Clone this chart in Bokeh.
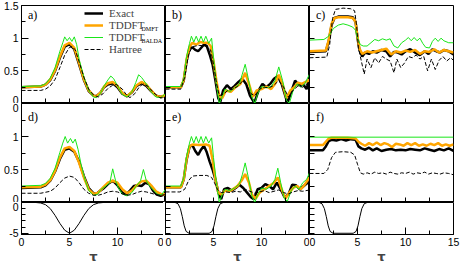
from bokeh.plotting import figure
from bokeh.layouts import gridplot
from bokeh.models import Range1d, FixedTicker, Label, Legend, LegendItem, CustomJSTickFormatter
from bokeh.embed import file_html
from bokeh.resources import INLINE

# ---------------- tick positions / labels ----------------
x_ticks = [0, 5, 10, 15]
x_minor = [2.5, 7.5, 12.5]
x_labels = [["0", "5", "10", "0"], ["0", "5", "10", "0"], ["0", "5", "10", "15"]]
y_ticks = [0, 0.5, 1, 1.5]
y_minor = [0.25, 0.75, 1.25]
y_labels_top = ["0", "0.5", "1", "1.5"]
y_labels_mid = ["0", "0.5", "1", "0"]
f_ticks = [-5, 0]
f_minor = [-4, -3, -2, -1]
f_labels = ["-5", "0"]
panel_names = [["a)", "b)", "c)"], ["d)", "e)", "f)"]]
legend_names = ["Exact", "TDDFT", "TDDFT", "Hartree"]
legend_subs = ["", "DMFT", "BALDA", ""]
x_title = "\u03c4"

# ---------------- panel a ----------------
a_ex_t = [0, 2, 2.5, 3, 3.5, 4, 4.5, 5, 5.5, 6, 6.5, 7, 7.5, 7.8, 8.2, 8.6, 9, 9.5, 10, 10.5, 11, 11.5, 12, 12.5, 13, 13.5, 14, 14.5, 15]
a_ex_v = [0.25, 0.26, 0.29, 0.36, 0.5, 0.7, 0.87, 0.91, 0.83, 0.6, 0.36, 0.19, 0.12, 0.11, 0.16, 0.25, 0.29, 0.31, 0.25, 0.15, 0.11, 0.17, 0.27, 0.31, 0.27, 0.19, 0.12, 0.1, 0.12]
a_dm_t = [0, 2, 2.5, 3, 3.5, 4, 4.5, 5, 5.5, 6, 6.5, 7, 7.5, 7.8, 8.2, 8.6, 9, 9.5, 10, 10.5, 11, 11.5, 12, 12.5, 13, 13.5, 14, 14.5, 15]
a_dm_v = [0.25, 0.26, 0.29, 0.37, 0.51, 0.72, 0.89, 0.93, 0.85, 0.62, 0.37, 0.2, 0.12, 0.11, 0.16, 0.26, 0.31, 0.33, 0.27, 0.16, 0.11, 0.18, 0.28, 0.33, 0.29, 0.2, 0.12, 0.1, 0.13]
a_ba_t = [0, 2, 2.5, 3, 3.5, 4, 4.3, 4.5, 4.75, 5.0, 5.25, 5.5, 5.75, 6, 6.5, 7, 7.5, 7.8, 8.2, 8.6, 9, 9.3, 9.6, 10, 10.5, 11, 11.5, 11.9, 12.2, 12.5, 13, 13.5, 14, 14.5, 15]
a_ba_v = [0.26, 0.27, 0.3, 0.39, 0.55, 0.8, 0.93, 1.02, 0.96, 1.01, 0.95, 1.02, 0.9, 0.68, 0.4, 0.2, 0.1, 0.09, 0.15, 0.27, 0.36, 0.42, 0.38, 0.27, 0.14, 0.1, 0.18, 0.32, 0.44, 0.4, 0.3, 0.18, 0.1, 0.09, 0.15]
a_ha_t = [0, 2, 2.5, 3, 3.5, 4, 4.5, 5, 5.3, 5.6, 6, 6.5, 7, 7.5, 8, 8.5, 9, 9.5, 9.9, 10.5, 11, 11.3, 11.8, 12.3, 12.7, 13.2, 13.8, 14.4, 15]
a_ha_v = [0.2, 0.2, 0.22, 0.27, 0.37, 0.55, 0.74, 0.86, 0.87, 0.82, 0.64, 0.4, 0.22, 0.13, 0.1, 0.15, 0.23, 0.28, 0.29, 0.22, 0.12, 0.09, 0.15, 0.26, 0.3, 0.26, 0.16, 0.09, 0.08]

# ---------------- panel b ----------------
b_ex_t = [0, 1.6, 1.9, 2.2, 2.5, 2.8, 3.1, 3.4, 3.7, 4.0, 4.3, 4.6, 4.9, 5.2, 5.5, 5.7, 6.0, 6.4, 6.8, 7.2, 7.6, 8.0, 8.4, 8.8, 9.25, 9.7, 10.1, 10.5, 10.9, 11.3, 11.7, 12.1, 12.7, 13.1, 13.5, 13.9, 14.3, 14.7, 15]
b_ex_v = [0.25, 0.25, 0.35, 0.65, 0.84, 0.86, 0.82, 0.8, 0.85, 0.9, 0.88, 0.75, 0.6, 0.35, 0.08, 0.02, 0.2, 0.28, 0.22, 0.27, 0.33, 0.38, 0.3, 0.12, 0.01, 0.2, 0.3, 0.25, 0.3, 0.38, 0.42, 0.3, 0.01, 0.18, 0.35, 0.28, 0.3, 0.22, 0.4]
b_dm_t = [0, 1.6, 1.9, 2.2, 2.5, 2.8, 3.2, 3.6, 4.0, 4.4, 4.7, 5.0, 5.3, 5.6, 5.9, 6.3, 6.8, 7.3, 7.8, 8.3, 8.7, 9.1, 9.5, 10.0, 10.5, 11.0, 11.4, 11.8, 12.2, 12.6, 13.0, 13.4, 13.8, 14.2, 14.6, 15]
b_dm_v = [0.25, 0.25, 0.36, 0.68, 0.87, 0.93, 0.9, 0.94, 0.93, 0.93, 0.88, 0.65, 0.35, 0.12, 0.08, 0.2, 0.18, 0.25, 0.3, 0.47, 0.3, 0.1, 0.2, 0.22, 0.26, 0.22, 0.3, 0.44, 0.3, 0.08, 0.2, 0.25, 0.32, 0.3, 0.33, 0.36]
b_ba_t = [0, 1.6, 1.9, 2.2, 2.5, 2.7, 2.95, 3.2, 3.45, 3.7, 3.95, 4.2, 4.5, 4.8, 5.0, 5.3, 5.6, 5.9, 6.2, 6.7, 7.2, 7.7, 8.0, 8.3, 8.6, 9.0, 9.3, 9.6, 10.0, 10.5, 11.0, 11.4, 11.8, 12.2, 12.6, 12.9, 13.3, 13.7, 14.1, 14.5, 15]
b_ba_v = [0.26, 0.26, 0.38, 0.72, 0.92, 1.03, 0.94, 1.03, 0.94, 1.03, 0.94, 1.03, 0.92, 1.0, 0.7, 0.3, 0.0, 0.1, 0.22, 0.18, 0.24, 0.3, 0.45, 0.6, 0.4, 0.1, 0.0, 0.15, 0.26, 0.24, 0.26, 0.35, 0.56, 0.35, 0.05, 0.0, 0.2, 0.3, 0.25, 0.3, 0.45]
b_ha_t = [0, 1.6, 2.0, 2.4, 2.8, 3.5, 4.2, 4.7, 5.0, 5.3, 5.6, 6.0, 6.5, 7.0, 7.5, 8.0, 8.4, 8.9, 9.3, 9.8, 10.3, 10.8, 11.3, 11.8, 12.3, 12.8, 13.3, 13.8, 14.3, 15]
b_ha_v = [0.22, 0.22, 0.4, 0.75, 0.87, 0.89, 0.88, 0.82, 0.6, 0.32, 0.12, 0.14, 0.2, 0.22, 0.26, 0.34, 0.3, 0.15, 0.12, 0.22, 0.25, 0.24, 0.28, 0.35, 0.25, 0.1, 0.2, 0.27, 0.25, 0.33]

# ---------------- panel c ----------------
c_ex_t = [0, 1.7, 2.0, 2.3, 2.6, 3.0, 3.5, 4.0, 4.5, 4.8, 5.0, 5.2, 5.5, 5.8, 6.2, 6.6, 7.0, 7.5, 8.0, 8.4, 8.8, 9.2, 9.6, 10.0, 10.5, 11.0, 11.5, 12.0, 12.4, 12.8, 13.2, 13.6, 14.0, 14.5, 15]
c_ex_v = [0.79, 0.8, 0.95, 1.2, 1.31, 1.33, 1.33, 1.33, 1.32, 1.25, 1.0, 0.82, 0.72, 0.78, 0.76, 0.8, 0.78, 0.82, 0.8, 0.72, 0.79, 0.78, 0.75, 0.8, 0.83, 0.78, 0.74, 0.8, 0.76, 0.83, 0.8, 0.78, 0.82, 0.8, 0.75]
c_dm_t = [0, 1.7, 2.0, 2.3, 2.6, 3.0, 4.0, 4.5, 4.8, 5.0, 5.2, 5.5, 6.0, 6.5, 7.0, 7.5, 8.0, 8.5, 9.0, 9.5, 10.0, 10.5, 11.0, 11.5, 12.0, 12.5, 13.0, 13.5, 14.0, 14.5, 15]
c_dm_v = [0.8, 0.81, 0.97, 1.22, 1.31, 1.32, 1.32, 1.31, 1.25, 1.02, 0.84, 0.76, 0.8, 0.78, 0.8, 0.82, 0.84, 0.75, 0.8, 0.78, 0.81, 0.79, 0.82, 0.76, 0.8, 0.79, 0.83, 0.78, 0.82, 0.8, 0.78]
c_ba_t = [0, 1.5, 2.0, 2.5, 3.0, 3.5, 4.0, 4.5, 4.8, 5.0, 5.3, 5.6, 6.0, 6.4, 6.8, 7.2, 7.6, 8.0, 8.4, 8.8, 9.2, 9.6, 10.0, 10.3, 10.6, 10.9, 11.2, 11.5, 11.8, 12.1, 12.5, 12.8, 13.1, 13.4, 13.7, 14.0, 14.5, 15]
c_ba_v = [0.97, 0.98, 1.03, 1.15, 1.2, 1.22, 1.2, 1.17, 1.12, 1.0, 0.9, 0.88, 0.88, 0.93, 0.98, 0.96, 0.99, 0.97, 0.99, 0.88, 0.85, 0.93, 0.97, 1.01, 0.96, 1.01, 0.96, 1.0, 0.92, 0.86, 0.85, 0.95, 1.0, 0.95, 1.0, 0.96, 0.93, 0.93]
c_ha_t = [0, 1.8, 2.1, 2.4, 2.7, 3.5, 4.3, 4.7, 4.9, 5.1, 5.4, 5.7, 6.0, 6.4, 6.8, 7.2, 7.6, 8.0, 8.4, 8.8, 9.1, 9.5, 9.9, 10.3, 10.7, 11.1, 11.5, 11.9, 12.3, 12.7, 13.1, 13.5, 13.9, 14.3, 14.7, 15]
c_ha_v = [0.7, 0.71, 0.9, 1.3, 1.44, 1.46, 1.45, 1.42, 1.2, 0.85, 0.65, 0.45, 0.68, 0.55, 0.7, 0.62, 0.72, 0.68, 0.65, 0.47, 0.68, 0.55, 0.62, 0.72, 0.7, 0.74, 0.68, 0.72, 0.5, 0.68, 0.52, 0.66, 0.72, 0.65, 0.7, 0.66]

# ---------------- panel d ----------------
d_ex_t = [0, 2, 2.5, 3, 3.5, 4, 4.5, 5, 5.5, 6, 6.5, 7, 7.5, 7.8, 8.2, 8.6, 9.0, 9.5, 10, 10.5, 10.9, 11.3, 11.7, 12.1, 12.5, 12.9, 13.3, 13.7, 14.1, 14.5, 15]
d_ex_v = [0.22, 0.23, 0.26, 0.33, 0.47, 0.66, 0.8, 0.82, 0.77, 0.62, 0.4, 0.22, 0.14, 0.13, 0.18, 0.22, 0.28, 0.33, 0.26, 0.15, 0.12, 0.18, 0.25, 0.26, 0.25, 0.3, 0.28, 0.18, 0.12, 0.1, 0.13]
d_dm_t = [0, 2, 2.5, 3, 3.5, 4, 4.5, 5, 5.5, 6, 6.5, 7, 7.5, 8, 8.5, 9, 9.5, 10, 10.5, 11, 11.5, 12, 12.5, 13, 13.5, 14, 14.5, 15]
d_dm_v = [0.23, 0.24, 0.27, 0.34, 0.48, 0.68, 0.82, 0.84, 0.78, 0.6, 0.38, 0.2, 0.13, 0.15, 0.23, 0.3, 0.33, 0.3, 0.2, 0.14, 0.18, 0.26, 0.32, 0.33, 0.26, 0.17, 0.13, 0.12]
d_ba_t = [0, 2, 2.5, 3, 3.5, 4, 4.3, 4.55, 4.8, 5.1, 5.35, 5.6, 5.9, 6.2, 6.6, 7.0, 7.5, 7.9, 8.3, 8.7, 9.2, 9.5, 9.8, 10.1, 10.5, 11.0, 11.5, 11.9, 12.4, 12.7, 13.0, 13.4, 13.8, 14.2, 14.6, 15]
d_ba_v = [0.25, 0.26, 0.29, 0.37, 0.52, 0.76, 0.9, 1.0, 0.9, 0.97, 0.9, 0.96, 0.8, 0.58, 0.35, 0.18, 0.11, 0.12, 0.2, 0.24, 0.3, 0.51, 0.33, 0.22, 0.13, 0.1, 0.15, 0.24, 0.33, 0.5, 0.33, 0.24, 0.18, 0.12, 0.12, 0.2]
d_ha_t = [0, 2, 3, 3.5, 4, 4.5, 5, 5.5, 6, 6.5, 7, 7.5, 8, 8.5, 9, 9.5, 10, 10.5, 11, 11.5, 12, 12.5, 13, 13.5, 14, 14.5, 15]
d_ha_v = [0.14, 0.14, 0.17, 0.22, 0.3, 0.37, 0.4, 0.38, 0.3, 0.2, 0.14, 0.11, 0.11, 0.13, 0.16, 0.17, 0.16, 0.13, 0.11, 0.12, 0.15, 0.17, 0.16, 0.14, 0.12, 0.11, 0.12]

# ---------------- panel e ----------------
e_ex_t = [0, 1.6, 1.9, 2.2, 2.5, 2.8, 3.1, 3.4, 3.7, 4.0, 4.3, 4.6, 4.9, 5.2, 5.5, 5.8, 6.1, 6.5, 6.9, 7.3, 7.7, 8.1, 8.5, 8.9, 9.2, 9.6, 10.0, 10.4, 10.8, 11.2, 11.6, 12.0, 12.4, 12.8, 13.2, 13.6, 14.0, 14.4, 14.8, 15]
e_ex_v = [0.23, 0.23, 0.35, 0.65, 0.84, 0.87, 0.78, 0.72, 0.8, 0.86, 0.76, 0.62, 0.5, 0.35, 0.15, 0.05, 0.2, 0.22, 0.18, 0.22, 0.27, 0.22, 0.15, 0.08, 0.05, 0.2, 0.22, 0.28, 0.25, 0.2, 0.3, 0.2, 0.08, 0.12, 0.27, 0.26, 0.2, 0.25, 0.3, 0.4]
e_dm_t = [0, 1.6, 1.9, 2.2, 2.5, 2.8, 3.5, 4.2, 4.6, 4.9, 5.2, 5.5, 5.8, 6.2, 6.6, 7.0, 7.5, 8.0, 8.3, 8.7, 9.0, 9.4, 9.8, 10.3, 10.8, 11.3, 11.7, 12.1, 12.5, 12.9, 13.3, 13.7, 14.1, 14.5, 15]
e_dm_v = [0.23, 0.23, 0.35, 0.66, 0.85, 0.88, 0.87, 0.88, 0.86, 0.65, 0.35, 0.15, 0.12, 0.18, 0.17, 0.2, 0.25, 0.35, 0.43, 0.3, 0.12, 0.06, 0.15, 0.2, 0.25, 0.3, 0.38, 0.2, 0.06, 0.15, 0.22, 0.25, 0.2, 0.27, 0.38]
e_ba_t = [0, 1.6, 1.9, 2.2, 2.5, 2.7, 2.95, 3.2, 3.45, 3.7, 3.95, 4.2, 4.5, 4.8, 5.0, 5.3, 5.6, 5.9, 6.2, 6.7, 7.2, 7.7, 8.0, 8.3, 8.6, 9.0, 9.3, 9.6, 10.0, 10.5, 11.0, 11.4, 11.7, 12.0, 12.4, 12.7, 13.1, 13.5, 13.9, 14.3, 14.7, 15]
e_ba_v = [0.25, 0.25, 0.37, 0.7, 0.9, 1.0, 0.9, 1.0, 0.9, 1.0, 0.9, 1.0, 0.9, 0.98, 0.68, 0.3, 0.0, 0.12, 0.2, 0.18, 0.22, 0.28, 0.42, 0.6, 0.4, 0.1, 0.0, 0.12, 0.22, 0.2, 0.25, 0.35, 0.52, 0.3, 0.05, 0.02, 0.18, 0.25, 0.2, 0.3, 0.35, 0.45]
e_ha_t = [0, 1.5, 2.0, 2.4, 2.8, 3.5, 4.3, 4.8, 5.1, 5.4, 5.8, 6.3, 6.8, 7.3, 7.8, 8.3, 8.8, 9.3, 9.8, 10.3, 10.8, 11.3, 11.8, 12.3, 12.8, 13.3, 13.8, 14.3, 15]
e_ha_v = [0.16, 0.16, 0.2, 0.33, 0.4, 0.41, 0.41, 0.38, 0.3, 0.2, 0.15, 0.16, 0.15, 0.17, 0.16, 0.2, 0.17, 0.14, 0.16, 0.18, 0.15, 0.17, 0.19, 0.15, 0.13, 0.16, 0.18, 0.17, 0.19]

# ---------------- panel f ----------------
f_ex_t = [0, 1.4, 1.7, 2.0, 2.3, 2.8, 3.3, 3.8, 4.3, 4.8, 5.1, 5.4, 5.8, 6.2, 6.6, 7.0, 7.5, 8.0, 8.5, 9.0, 9.5, 10.0, 10.5, 11.0, 11.5, 12.0, 12.5, 13.0, 13.5, 14.0, 14.5, 15]
f_ex_v = [0.79, 0.79, 0.85, 0.93, 0.95, 0.94, 0.96, 0.94, 0.96, 0.95, 0.85, 0.82, 0.8, 0.83, 0.79, 0.82, 0.78, 0.8, 0.81, 0.79, 0.8, 0.79, 0.81, 0.8, 0.79, 0.82, 0.8, 0.78, 0.81, 0.79, 0.82, 0.78]
f_dm_t = [0, 1.4, 1.7, 2.0, 2.3, 3.0, 4.0, 4.8, 5.1, 5.4, 5.8, 6.2, 6.6, 7.0, 7.4, 7.8, 8.2, 8.6, 9.0, 9.4, 9.8, 10.2, 10.6, 11.0, 11.4, 11.8, 12.2, 12.6, 13.0, 13.4, 13.8, 14.2, 14.6, 15]
f_dm_v = [0.87, 0.87, 0.92, 0.97, 0.98, 0.98, 0.98, 0.97, 0.92, 0.89, 0.86, 0.9, 0.87, 0.91, 0.87, 0.9, 0.88, 0.84, 0.89, 0.88, 0.86, 0.9, 0.87, 0.9, 0.86, 0.88, 0.86, 0.89, 0.87, 0.9, 0.86, 0.88, 0.86, 0.88]
f_ba_t = [0, 15]
f_ba_v = [0.99, 0.99]
f_ha_t = [0, 1.5, 1.9, 2.3, 2.7, 3.5, 4.3, 4.7, 5.0, 5.3, 5.6, 6.0, 6.4, 6.8, 7.2, 7.6, 8.0, 8.4, 8.8, 9.2, 9.6, 10.0, 10.4, 10.8, 11.2, 11.6, 12.0, 12.4, 12.8, 13.2, 13.6, 14.0, 14.5, 15]
f_ha_v = [0.44, 0.44, 0.5, 0.68, 0.76, 0.77, 0.76, 0.72, 0.58, 0.45, 0.43, 0.45, 0.43, 0.46, 0.44, 0.45, 0.43, 0.46, 0.44, 0.43, 0.45, 0.44, 0.46, 0.43, 0.45, 0.44, 0.46, 0.43, 0.45, 0.44, 0.43, 0.45, 0.44, 0.42]

# ---------------- pulses (bottom row) ----------------
gauss_t = [1.5, 2.0, 2.5, 3.0, 3.5, 4.0, 4.5, 5.0, 5.5, 6.0, 6.5, 7.0, 7.5, 8.0, 8.5]
gauss_v = [0, -0.08, -0.35, -1.0, -2.1, -3.4, -4.5, -5.0, -4.5, -3.4, -2.1, -1.0, -0.35, -0.08, 0]
flat_t = [1.0, 1.3, 1.55, 1.75, 1.95, 2.15, 2.45, 4.55, 4.85, 5.05, 5.25, 5.45, 5.7, 6.0]
flat_v = [0, -0.2, -1.0, -2.3, -3.8, -4.7, -5.0, -5.0, -4.7, -3.8, -2.3, -1.0, -0.2, 0]

panels = [
    [(a_ex_t, a_ex_v, a_dm_t, a_dm_v, a_ba_t, a_ba_v, a_ha_t, a_ha_v),
     (b_ex_t, b_ex_v, b_dm_t, b_dm_v, b_ba_t, b_ba_v, b_ha_t, b_ha_v),
     (c_ex_t, c_ex_v, c_dm_t, c_dm_v, c_ba_t, c_ba_v, c_ha_t, c_ha_v)],
    [(d_ex_t, d_ex_v, d_dm_t, d_dm_v, d_ba_t, d_ba_v, d_ha_t, d_ha_v),
     (e_ex_t, e_ex_v, e_dm_t, e_dm_v, e_ba_t, e_ba_v, e_ha_t, e_ha_v),
     (f_ex_t, f_ex_v, f_dm_t, f_dm_v, f_ba_t, f_ba_v, f_ha_t, f_ha_v)],
]
pulses = [(gauss_t, gauss_v), (flat_t, flat_v), (flat_t, flat_v)]

# ---------------- layout / style ----------------
FW = 144
RH = [98, 99, 32]
LB, RB, TB, BB = 19, 7, 5, 29
ORANGE = "#ffa500"
GREEN = "#19e619"
TICK_FONT = "Liberation Sans"
SERIF = "Liberation Serif"
LEG_X = 63


def make_formatter(ticks, labels):
    return CustomJSTickFormatter(args=dict(ts=ticks, ls=labels), code="""
        for (let i = 0; i < ts.length; i++) {
            if (Math.abs(ts[i] - tick) < 1e-6) { return ls[i]; }
        }
        return "";
    """)


def style_axis(ax, ticks, minor, labels):
    ax.axis_line_color = "black"
    ax.major_tick_line_color = "black"
    ax.minor_tick_line_color = "black"
    ax.major_tick_out = 0
    ax.minor_tick_out = 0
    if labels is None:
        # unlabelled edge: ticks only (drawn as minor ticks so no label texts exist)
        ax.ticker = FixedTicker(ticks=[], minor_ticks=sorted(ticks + minor))
        ax.minor_tick_in = 5
        ax.major_tick_in = 0
        ax.major_label_standoff = 0
    else:
        ax.ticker = FixedTicker(ticks=ticks, minor_ticks=minor)
        ax.major_tick_in = 7
        ax.minor_tick_in = 4
        ax.formatter = make_formatter(ticks, labels)
        ax.major_label_text_font = TICK_FONT
        ax.major_label_text_font_size = "10.5px"
        ax.major_label_text_color = "black"
        ax.major_label_standoff = 3


figs = []
for row in range(3):
    fig_row = []
    for col in range(3):
        p = figure(
            output_backend="svg", toolbar_location=None,
            frame_width=FW, frame_height=RH[row],
            min_border_left=LB if col == 0 else 0,
            min_border_right=RB if col == 2 else 0,
            min_border_top=TB if row == 0 else 0,
            min_border_bottom=BB if row == 2 else 0,
            x_range=Range1d(0, 15),
            y_range=Range1d(-5.2, 0) if row == 2 else Range1d(0, 1.5),
            background_fill_color="white", border_fill_color="white",
            outline_line_color="black",
        )
        p.grid.visible = False
        xa = p.xaxis[0]
        ya = p.yaxis[0]
        if row == 2:
            style_axis(xa, x_ticks, x_minor, x_labels[col])
            xa.axis_label = x_title
            xa.axis_label_text_font = "DejaVu Sans"
            xa.axis_label_text_font_style = "bold"
            xa.axis_label_text_font_size = "13px"
            xa.axis_label_standoff = 0
            style_axis(ya, f_ticks, f_minor, f_labels if col == 0 else None)
            t, v = pulses[col]
            p.line(t, v, line_color="black", line_width=1)
        else:
            style_axis(xa, x_ticks, x_minor, None)
            ylab = (y_labels_top if row == 0 else y_labels_mid) if col == 0 else None
            style_axis(ya, y_ticks, y_minor, ylab)
            ex_t, ex_v, dm_t, dm_v, ba_t, ba_v, ha_t, ha_v = panels[row][col]
            r_ex = p.line(ex_t, ex_v, line_color="black", line_width=2.5)
            r_dm = p.line(dm_t, dm_v, line_color=ORANGE, line_width=2.5)
            r_ba = p.line(ba_t, ba_v, line_color=GREEN, line_width=1)
            r_ha = p.line(ha_t, ha_v, line_color="black", line_width=1, line_dash="4 2")
            p.add_layout(Label(x=0.68, y=1.36 if row == 0 else 1.30, text=panel_names[row][col],
                               text_font=SERIF, text_font_size="12px", text_baseline="middle",
                               text_align="left", text_color="black"))
            if row == 0 and col == 0:
                items = [LegendItem(label=n, renderers=[r]) for n, r in
                         zip(legend_names, [r_ex, r_dm, r_ba, r_ha])]
                leg = Legend(items=items, location=(LEG_X, 48), padding=0, margin=0, spacing=0,
                             glyph_width=19, glyph_height=12, label_height=12, label_standoff=6,
                             label_text_font=SERIF, label_text_font_size="11px",
                             border_line_alpha=0, background_fill_alpha=0)
                p.add_layout(leg)
                sub_x = (LEG_X + 57) / FW * 15
                for i, s in enumerate(legend_subs):
                    if s:
                        yy = 1.5 - (2 + 6 + 12 * i + 3) / RH[0] * 1.5
                        p.add_layout(Label(x=sub_x, y=yy, text=s, text_font=SERIF,
                                           text_font_size="6px", text_baseline="middle",
                                           text_align="left", text_color="black"))
        fig_row.append(p)
    figs.append(fig_row)

grid = gridplot(figs, toolbar_location=None)
open("out.html", "w").write(file_html(grid, INLINE))
